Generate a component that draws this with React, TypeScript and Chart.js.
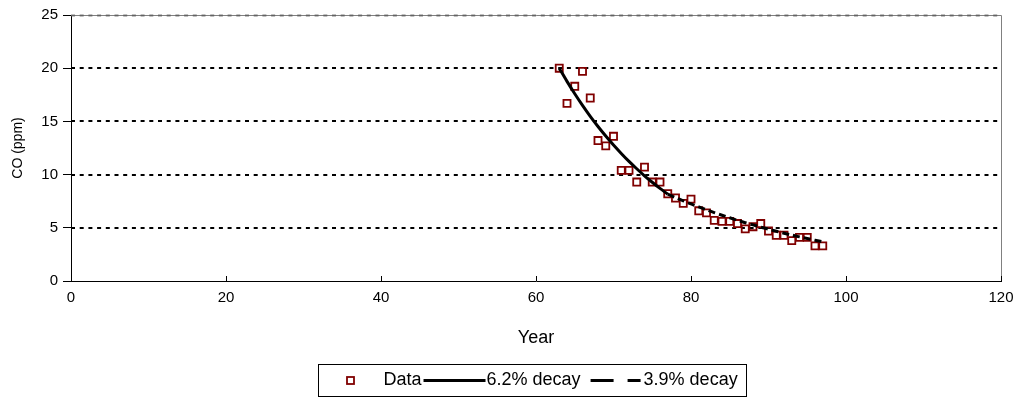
import React, { useEffect, useRef } from "react";
import { Chart, registerables } from "chart.js";

Chart.register(...registerables);

// ---- data ----
const years = [63, 64, 65, 66, 67, 68, 69, 70, 71, 72, 73, 74, 75, 76, 77, 78, 79, 80, 81, 82, 83, 84, 85, 86, 87, 88, 89, 90, 91, 92, 93, 94, 95, 96, 97];
const coValues = [20.0, 16.7, 18.3, 19.7, 17.2, 13.2, 12.7, 13.6, 10.4, 10.4, 9.3, 10.7, 9.3, 9.3, 8.2, 7.8, 7.3, 7.7, 6.6, 6.4, 5.7, 5.6, 5.6, 5.4, 4.9, 5.1, 5.4, 4.7, 4.3, 4.3, 3.8, 4.1, 4.1, 3.3, 3.3];

const decay62Years = [63, 64, 65, 66, 67, 68, 69, 70, 71, 72, 73, 74, 75, 76, 77];
const decay62Values = [20.0, 18.76, 17.6, 16.51, 15.48, 14.52, 13.62, 12.78, 11.99, 11.24, 10.55, 9.89, 9.28, 8.7, 8.16];

const decay39Years = [77, 78, 79, 80, 81, 82, 83, 84, 85, 86, 87, 88, 89, 90, 91, 92, 93, 94, 95, 96, 97];
const decay39Values = [8.16, 7.84, 7.54, 7.24, 6.96, 6.69, 6.43, 6.18, 5.94, 5.7, 5.48, 5.27, 5.06, 4.87, 4.68, 4.49, 4.32, 4.15, 3.99, 3.83, 3.68];

const xTickValues = [0, 20, 40, 60, 80, 100, 120];
const yTickValues = [0, 5, 10, 15, 20, 25];
const seriesLabels = ["Data", "6.2% decay", "3.9% decay"];

const FONT = "'Liberation Sans', Arial, sans-serif";
const TICK_SIZE = 15;
const YTITLE_SIZE = 14;
const XTITLE_SIZE = 18;
const LEGEND_SIZE = 18;
const POINT_COLOR = "#800000";

const framePlugin = {
  id: "framePlugin",
  beforeDatasetsDraw(chart: any) {
    const { ctx, chartArea } = chart;
    const y = chart.scales.y;
    const x = chart.scales.x;
    ctx.save();
    // dotted gridlines
    yTickValues.forEach((v) => {
      if (v === 0 || v === 25) return;
      const py = Math.round(y.getPixelForValue(v));
      ctx.beginPath();
      ctx.setLineDash([4, 4.7]);
      ctx.lineWidth = 2;
      ctx.strokeStyle = "#000";
      ctx.moveTo(chartArea.left, py);
      ctx.lineTo(chartArea.right, py);
      ctx.stroke();
    });
    // top frame + dashed gridline at 25
    const topY = Math.round(y.getPixelForValue(25)) + 0.5;
    ctx.setLineDash([]);
    ctx.lineWidth = 1;
    ctx.strokeStyle = "#808080";
    ctx.beginPath();
    ctx.moveTo(chartArea.left, topY);
    ctx.lineTo(chartArea.right + 0.5, topY);
    ctx.lineTo(chartArea.right + 0.5, chartArea.bottom);
    ctx.stroke();
    ctx.setLineDash([4, 4.7]);
    ctx.lineWidth = 2;
    ctx.strokeStyle = "rgba(90,90,90,0.75)";
    ctx.beginPath();
    ctx.moveTo(chartArea.left, topY);
    ctx.lineTo(chartArea.right, topY);
    ctx.stroke();
    // inside x tick marks
    ctx.setLineDash([]);
    ctx.lineWidth = 1;
    ctx.strokeStyle = "#000";
    xTickValues.forEach((v) => {
      const px = Math.round(x.getPixelForValue(v)) + 0.5;
      ctx.beginPath();
      ctx.moveTo(px, chartArea.bottom);
      ctx.lineTo(px, chartArea.bottom - 5);
      ctx.stroke();
    });
    ctx.restore();
  },
  afterDraw(chart: any) {
    const { ctx, chartArea } = chart;
    const ds = chart.data.datasets;
    ctx.save();
    ctx.font = `${LEGEND_SIZE}px ${FONT}`;
    ctx.textBaseline = "middle";
    ctx.fillStyle = "#000";
    const lineW = 62;
    const dashW = 50;
    const w0 = ctx.measureText(ds[0].label).width;
    const w1 = ctx.measureText(ds[1].label).width;
    const w2 = ctx.measureText(ds[2].label).width;
    const leftPad = 65; // box edge to first label
    const rightPad = 9;
    const boxW = leftPad + w0 + 2 + lineW + 1 + w1 + 10 + dashW + 3 + w2 + rightPad;
    const boxH = 32;
    const cx = (chartArea.left + chartArea.right) / 2 - 3.5;
    const bx = Math.round(cx - boxW / 2) + 0.5;
    const by = 364.5;
    ctx.lineWidth = 1;
    ctx.strokeStyle = "#000";
    ctx.strokeRect(bx, by, Math.round(boxW), boxH);
    const cy = by + boxH / 2;
    // marker
    ctx.strokeStyle = POINT_COLOR;
    ctx.lineWidth = 1.8;
    ctx.strokeRect(bx + 32 - 3.5, cy - 3.5, 7, 7);
    let px = bx + leftPad;
    ctx.fillText(ds[0].label, px, cy);
    px += w0 + 2;
    ctx.strokeStyle = "#000";
    ctx.lineWidth = 3;
    ctx.beginPath();
    ctx.moveTo(px, cy);
    ctx.lineTo(px + lineW, cy);
    ctx.stroke();
    px += lineW + 1;
    ctx.fillText(ds[1].label, px, cy);
    px += w1 + 10;
    ctx.setLineDash([23, 14]);
    ctx.beginPath();
    ctx.moveTo(px, cy);
    ctx.lineTo(px + dashW, cy);
    ctx.stroke();
    ctx.setLineDash([]);
    px += dashW + 3;
    ctx.fillText(ds[2].label, px, cy);
    ctx.restore();
  },
};

export default function App() {
  const canvasRef = useRef<HTMLCanvasElement | null>(null);

  useEffect(() => {
    const canvas = canvasRef.current;
    if (!canvas) return;
    const chart = new Chart(canvas, {
      type: "scatter",
      data: {
        datasets: [
          {
            label: seriesLabels[0],
            data: years.map((yr, i) => ({ x: yr, y: coValues[i] })),
            pointStyle: "rect",
            pointRadius: 5,
            pointBorderColor: POINT_COLOR,
            pointBackgroundColor: "rgba(255,255,255,0)",
            pointBorderWidth: 1.8,
            showLine: false,
            order: 3,
          },
          {
            label: seriesLabels[1],
            data: decay62Years.map((yr, i) => ({ x: yr, y: decay62Values[i] })),
            showLine: true,
            borderColor: "#000",
            borderWidth: 3,
            pointRadius: 0,
            tension: 0.3,
            order: 1,
          },
          {
            label: seriesLabels[2],
            data: decay39Years.map((yr, i) => ({ x: yr, y: decay39Values[i] })),
            showLine: true,
            borderColor: "#000",
            borderWidth: 3,
            borderDash: [7, 4],
            pointRadius: 0,
            tension: 0.3,
            order: 2,
          },
        ],
      },
      options: {
        animation: false,
        responsive: false,
        devicePixelRatio: 1,
        layout: { padding: { top: 15, right: 22, left: 0, bottom: 0 } },
        plugins: {
          legend: { display: false },
          tooltip: { enabled: false },
        },
        scales: {
          x: {
            type: "linear",
            min: 0,
            max: 120,
            afterBuildTicks: (s: any) => {
              s.ticks = xTickValues.map((v) => ({ value: v }));
            },
            afterFit: (s: any) => {
              s.height = 121;
            },
            ticks: {
              color: "#000",
              padding: 8,
              font: { family: FONT, size: TICK_SIZE },
            },
            grid: { display: true, drawOnChartArea: false, drawTicks: false },
            border: { display: true, color: "#000", width: 1 },
            title: {
              display: true,
              text: "Year",
              color: "#000",
              font: { family: FONT, size: XTITLE_SIZE },
              padding: { top: 0, bottom: 53 },
            },
          },
          y: {
            type: "linear",
            min: 0,
            max: 25,
            afterBuildTicks: (s: any) => {
              s.ticks = yTickValues.map((v) => ({ value: v }));
            },
            afterFit: (s: any) => {
              s.width = 71;
            },
            ticks: {
              color: "#000",
              padding: 5,
              font: { family: FONT, size: TICK_SIZE },
            },
            grid: {
              display: true,
              drawOnChartArea: false,
              drawTicks: true,
              tickLength: 8,
              tickColor: "#000",
            },
            border: { display: true, color: "#000", width: 1 },
            title: {
              display: true,
              text: "CO (ppm)",
              color: "#000",
              font: { family: FONT, size: YTITLE_SIZE },
              padding: { top: 9.6, bottom: 0 },
            },
          },
        },
      },
      plugins: [framePlugin],
    });
    return () => chart.destroy();
  }, []);

  return (
    <div style={{ position: "absolute", left: 0, top: 0, width: 1023, height: 402, background: "#fff" }}>
      <canvas ref={canvasRef} width={1023} height={402} style={{ display: "block" }} />
    </div>
  );
}
